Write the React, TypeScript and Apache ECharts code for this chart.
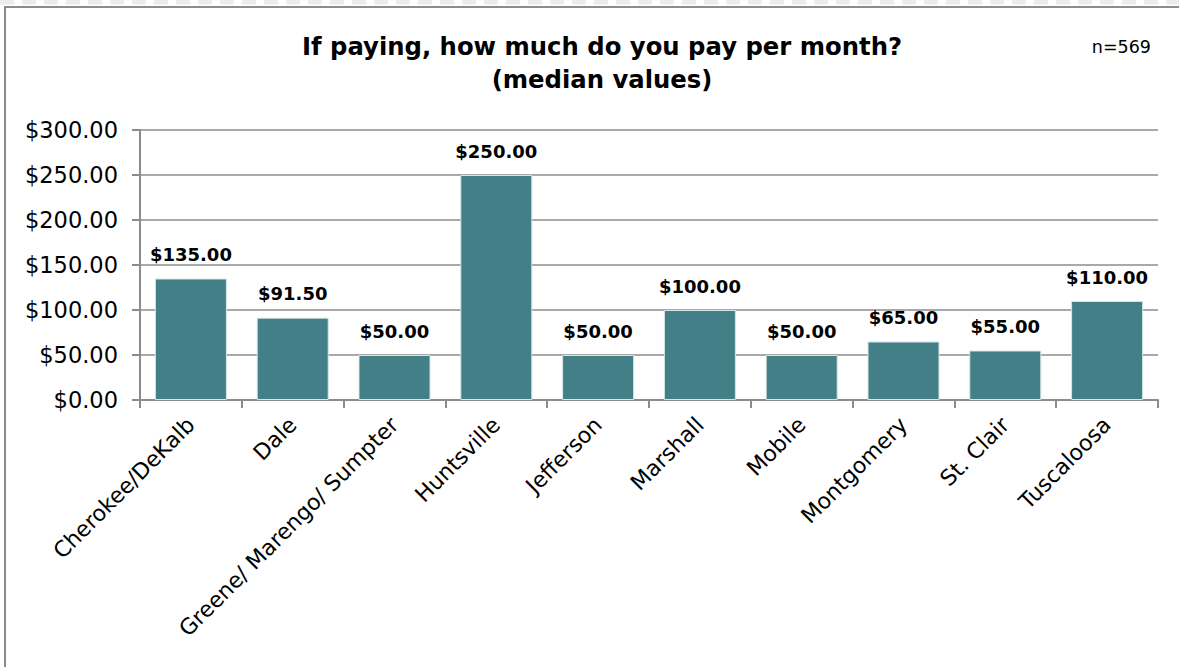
import React, { useEffect, useRef } from "react";
import * as echarts from "echarts";

const categories = [
  "Cherokee/DeKalb",
  "Dale",
  "Greene/ Marengo/ Sumpter",
  "Huntsville",
  "Jefferson",
  "Marshall",
  "Mobile",
  "Montgomery",
  "St. Clair",
  "Tuscaloosa",
];
const medianValues = [135, 91.5, 50, 250, 50, 100, 50, 65, 55, 110];
const titleLines = ["If paying, how much do you pay per month?", "(median values)"];
const sampleNote = "n=569";

const FONT = "DejaVu Sans";

export default function App() {
  const ref = useRef<HTMLDivElement>(null);
  useEffect(() => {
    document.body.style.margin = "0";
    const chart = echarts.init(ref.current!, null, { renderer: "svg" });
    chart.setOption({
      animation: false,
      backgroundColor: "#ffffff",
      textStyle: { fontFamily: FONT },
      title: {
        text: titleLines.join("\n"),
        left: 597,
        textAlign: "center",
        top: 25,
        textStyle: {
          fontFamily: FONT,
          fontSize: 24.3,
          fontWeight: "bold",
          color: "#000",
          lineHeight: 33,
        },
      },
      graphic: [
        {
          type: "line",
          shape: { x1: 0, y1: 2, x2: 1179, y2: 2 },
          style: { stroke: "#ececec", lineWidth: 5, lineDash: [14, 8] },
        },
        {
          type: "rect",
          shape: { x: 5, y: 7, width: 1190, height: 680 },
          style: { fill: "none", stroke: "#8c8c8c", lineWidth: 2 },
        },
        {
          type: "text",
          x: 1151,
          y: 47,
          style: {
            text: sampleNote,
            fontFamily: FONT,
            fontSize: 17.5,
            fill: "#000",
            align: "right",
            verticalAlign: "middle",
          },
        },
      ],
      grid: { left: 140, right: 21, top: 130, bottom: 267, containLabel: false },
      xAxis: {
        type: "category",
        data: categories,
        axisLine: { show: true, lineStyle: { color: "#8c8c8c", width: 2 } },
        axisTick: { show: true, length: 8, alignWithLabel: false, lineStyle: { color: "#8c8c8c", width: 2 } },
        axisLabel: {
          rotate: 45,
          interval: 0,
          margin: 21,
          fontFamily: FONT,
          fontSize: 22,
          color: "#000",
        },
      },
      yAxis: {
        type: "value",
        min: 0,
        max: 300,
        interval: 50,
        axisLine: { show: true, lineStyle: { color: "#8c8c8c", width: 2 } },
        axisTick: { show: true, length: 8, lineStyle: { color: "#8c8c8c", width: 2 } },
        splitLine: { show: true, lineStyle: { color: "#8c8c8c", width: 1.5 } },
        axisLabel: {
          formatter: (v: number) => "$" + v.toFixed(2),
          fontFamily: FONT,
          fontSize: 22.5,
          color: "#000",
          margin: 22,
        },
      },
      series: [
        {
          type: "bar",
          data: medianValues,
          barWidth: 72,
          itemStyle: { color: "#427f86", borderColor: "#d4e6e8", borderWidth: 1 },
          label: {
            show: true,
            position: "top",
            distance: 15,
            formatter: (p: any) => "$" + Number(p.value).toFixed(2),
            fontFamily: FONT,
            fontSize: 18,
            fontWeight: "bold",
            color: "#000",
          },
        },
      ],
    });
    return () => chart.dispose();
  }, []);
  return <div ref={ref} style={{ width: 1179, height: 667 }} />;
}
